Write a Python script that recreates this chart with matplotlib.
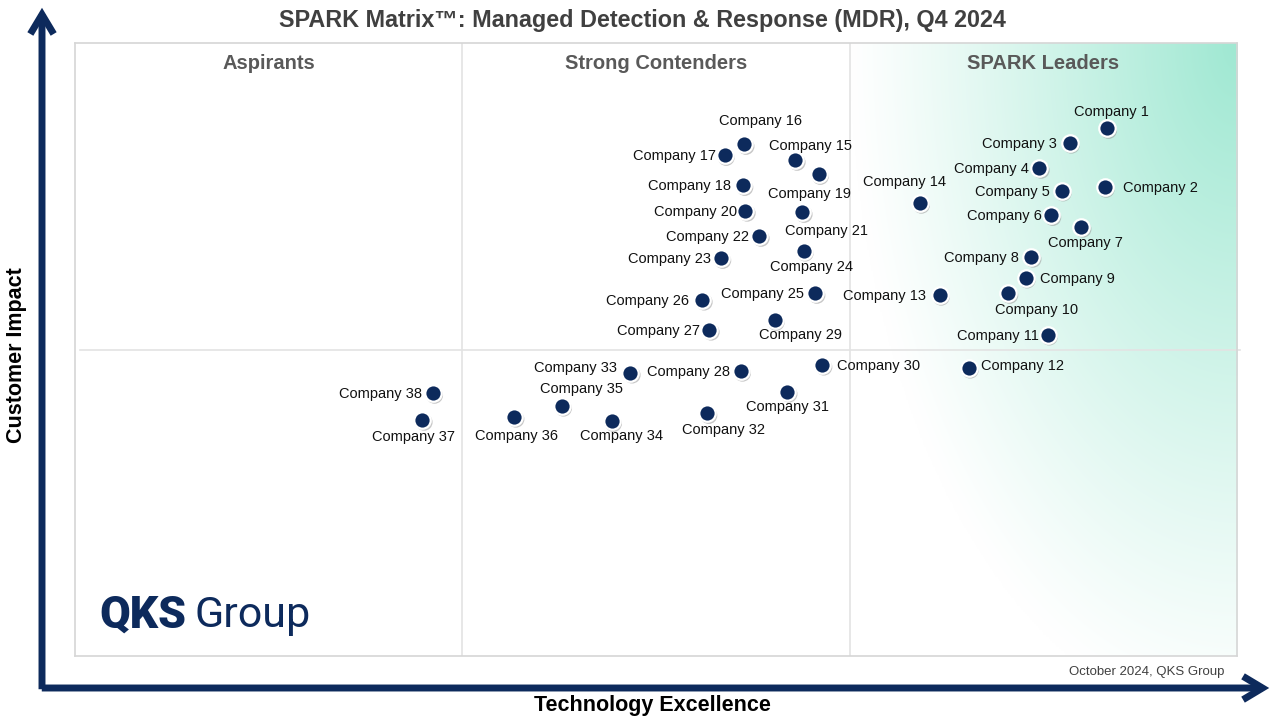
import numpy as np
import matplotlib
matplotlib.use("Agg")
import matplotlib.pyplot as plt
import matplotlib.transforms as mtransforms
from matplotlib.patches import FancyArrowPatch
from matplotlib.colors import to_rgb

plt.rcParams['font.family'] = ['Liberation Sans', 'DejaVu Sans']

# ---- data (0-100 scale on both axes) ----
companies = [f"Company {i}" for i in range(1, 39)]
tech_excellence = [88.8, 88.6, 85.6, 83.0, 84.9, 84.0, 86.6, 82.3, 81.8, 80.3,
                   83.7, 76.9, 74.4, 72.7, 62.0, 57.6, 55.9, 57.5, 64.0, 57.7,
                   62.6, 58.9, 55.6, 62.7, 63.7, 54.0, 54.6, 57.3, 60.2, 64.3,
                   61.3, 54.4, 47.8, 46.2, 41.9, 37.8, 29.9, 30.8]
customer_impact = [86.1, 76.5, 83.7, 79.6, 75.9, 71.9, 70.0, 65.1, 61.7, 59.2,
                   52.4, 47.0, 58.9, 73.9, 80.9, 83.5, 81.7, 76.8, 78.6, 72.6,
                   72.4, 68.5, 64.9, 66.1, 59.2, 58.1, 53.2, 46.5, 54.8, 47.5,
                   43.1, 39.6, 46.2, 38.3, 40.8, 39.0, 38.5, 42.9]
quadrants = ["Aspirants", "Strong Contenders", "SPARK Leaders"]

# label offsets from the dot, in pixels (right, up)
label_off = [(5, 17), (56, 0), (-50, 0), (-48, 0), (-49, 0), (-47, 0), (4, -15),
             (-50, 0), (52, 0), (28, -16), (-50, 0), (54, 3), (-55, 0), (-15, 22),
             (15, 15), (16, 24), (-50, 0), (-54, 0), (-9, -19), (-50, 0),
             (24, -18), (-52, 0), (-52, 0), (8, -15), (-53, 0), (-55, 0),
             (-51, 0), (-52, 0), (26, -14), (56, 0), (0, -14), (16, -16),
             (-55, 6), (10, -14), (20, 18), (2, -18), (-9, -16), (-52, 0)]

NAVY = "#0d2a5c"
GRID = "#e3e3e3"

fig = plt.figure(figsize=(12.8, 7.2), dpi=100)
ax = fig.add_axes([75 / 1280, 64 / 720, 1162 / 1280, 613 / 720])
ax.set_xticks([])
ax.set_yticks([])
for s in ax.spines.values():
    s.set_color("#d6d6d6")
    s.set_linewidth(1.2)

# leaders gradient (elliptical from top-right corner); row 0 = top
gx = np.linspace(0, 1, 300)
gy = np.linspace(0, 1, 300)
X, Y = np.meshgrid(gx, gy)
d = np.sqrt((1 - X) ** 2 + (Y * 0.9) ** 2)
t = np.clip(1 - d, 0, 1) ** 1.1
g0 = np.array(to_rgb("#ffffff"))
g1 = np.array(to_rgb("#9fe8d2"))
img = g0 + (g1 - g0) * t[..., None]
ax.imshow(img, extent=[100 * 2 / 3, 100, 0, 100], origin='upper', aspect='auto',
          zorder=0, interpolation='bilinear')
ax.set_xlim(0, 100)
ax.set_ylim(0, 100)

ax.axvline(100 / 3, color=GRID, lw=1.2, zorder=1)
ax.axvline(200 / 3, color=GRID, lw=1.2, zorder=1)
ax.axhline(50, color=GRID, lw=1.2, zorder=1, xmin=0.004, xmax=1.003, clip_on=False)

for i, q in enumerate(quadrants):
    ax.text(100 / 6 + i * 100 / 3, 96.7, q, ha='center', va='center', fontsize=14.5,
            fontweight='bold', color="#595959", zorder=3)

# dots with soft shadow
shadow = mtransforms.offset_copy(ax.transData, fig=fig, x=1.2, y=-1.6, units='points')
ax.scatter(tech_excellence, customer_impact, s=150, color="#9a9a9a", alpha=0.55,
           edgecolors='none', transform=shadow, zorder=4)
ax.scatter(tech_excellence, customer_impact, s=140, color=NAVY, edgecolors='white',
           linewidths=1.6, zorder=5)

for name, x, y, (dx, dy) in zip(companies, tech_excellence, customer_impact, label_off):
    ax.annotate(name, (x, y), xytext=(dx * 0.72, dy * 0.72 - 0.6), textcoords='offset points',
                ha='center', va='center', fontsize=10.5, color="#111111", zorder=6)

# logo
ax.text(2.1, 6.6, "QKS", fontsize=32, fontweight='heavy', color=NAVY, ha='left',
        va='center', family=['Roboto', 'Liberation Sans'])
ax.text(10.3, 6.6, "Group", fontsize=31, color=NAVY, ha='left', va='center',
        family=['Roboto', 'Liberation Sans'])

# title, footer, axis labels
fig.text(642 / 1280, 1 - 20 / 720, "SPARK Matrix\u2122: Managed Detection & Response (MDR), Q4 2024",
         ha='center', va='center', fontsize=16.8, fontweight='bold', color="#404040")
fig.text(1224 / 1280, 1 - 672 / 720, "October 2024, QKS Group", ha='right', va='center',
         fontsize=9.5, color="#404040")
fig.text(652 / 1280, 1 - 705 / 720, "Technology Excellence", ha='center', va='center',
         fontsize=15.5, fontweight='bold', color="black")
fig.text(17 / 1280, 1 - 355 / 720, "Customer Impact", ha='center', va='center',
         rotation=90, fontsize=15.5, fontweight='bold', color="black")

# big axis arrows
arr_kw = dict(arrowstyle="->,head_length=1.0,head_width=0.6", color=NAVY, lw=5,
              transform=fig.transFigure, joinstyle='miter', capstyle='butt')
fig.patches.append(FancyArrowPatch((42 / 1280, 1 - 692 / 720), (42 / 1280, 1 - 5 / 720),
                                   mutation_scale=14, **arr_kw))
fig.patches.append(FancyArrowPatch((39 / 1280, 1 - 688 / 720), (1272 / 1280, 1 - 688 / 720),
                                   mutation_scale=14, **arr_kw))

fig.savefig("out.png", dpi=100)
